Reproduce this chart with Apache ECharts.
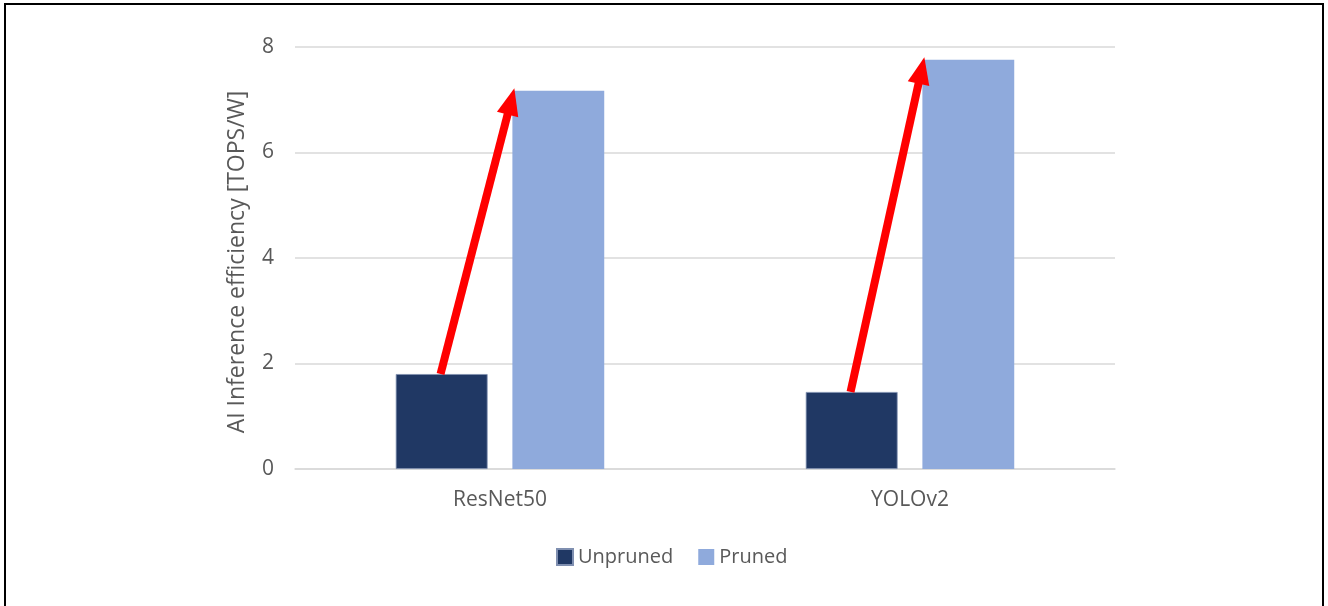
<!DOCTYPE html>
<html><head><meta charset="utf-8">
<script src="https://cdn.jsdelivr.net/npm/echarts@6/dist/echarts.min.js"></script>
<style>
html,body{margin:0;padding:0;background:#fff;}
#frame{position:absolute;left:4px;top:3px;width:1320px;height:610px;border:2px solid #000;border-bottom:none;box-sizing:border-box;}
#c{position:absolute;left:0;top:0;width:1328px;height:606px;}
</style></head><body>
<div id="c"></div><div id="frame"></div>
<script>
const categories = ['ResNet50', 'YOLOv2'];
const unpruned = [1.80, 1.46];
const pruned = [7.17, 7.76];
const yTicks = [0, 2, 4, 6, 8];
const seriesNames = ['Unpruned', 'Pruned'];

const chart = echarts.init(document.getElementById('c'));
const font = '"Open Sans", sans-serif';
const arrowData = categories.map((c, i) => [i, unpruned[i], pruned[i]]);

chart.setOption({
  animation: false,
  grid: {left: 295, right: 213, top: 47, bottom: 137, containLabel: false},
  legend: {
    data: seriesNames, left: 551, top: 542, itemWidth: 16, itemHeight: 16, itemGap: 25,
    icon: 'rect', textStyle: {color: '#595959', fontSize: 20, fontFamily: font}
  },
  xAxis: {
    type: 'category', data: categories,
    axisLine: {lineStyle: {color: '#d9d9d9', width: 1.5}},
    axisTick: {show: false},
    axisLabel: {color: '#595959', fontSize: 21, fontFamily: font, margin: 21}
  },
  yAxis: {
    type: 'value', min: yTicks[0], max: yTicks[yTicks.length - 1], interval: 2,
    name: 'AI Inference efficiency [TOPS/W]', nameLocation: 'middle', nameGap: 46,
    nameTextStyle: {color: '#595959', fontSize: 23, fontFamily: font, padding: [0, 8, 0, 0]},
    axisLine: {show: false}, axisTick: {show: false},
    splitLine: {lineStyle: {color: '#d9d9d9', width: 1.5}},
    axisLabel: {color: '#595959', fontSize: 21, fontFamily: font, margin: 21}
  },
  series: [
    {name: seriesNames[0], type: 'bar', data: unpruned, barWidth: '22.4%', barGap: '27%',
     itemStyle: {color: '#203864', borderColor: '#7f8fb0', borderWidth: 0.8}},
    {name: seriesNames[1], type: 'bar', data: pruned, barWidth: '22.4%',
     itemStyle: {color: '#8faadc'}},
    {
      type: 'custom', data: arrowData, z: 10, silent: true,
      renderItem: function (params, api) {
        const cat = api.value(0);
        const bw = api.size([1, 0])[0];
        const p0 = api.coord([cat, api.value(1)]);
        const p1 = api.coord([cat, api.value(2)]);
        const x0 = p0[0] - 0.145 * bw, y0 = p0[1];
        const x1 = p1[0] + 0.035 * bw, y1 = p1[1] - 2.5;
        const dx = x1 - x0, dy = y1 - y0, L = Math.sqrt(dx * dx + dy * dy);
        const ux = dx / L, uy = dy / L, nx = -uy, ny = ux;
        const hl = 27, hw = 11;
        const bx = x1 - ux * hl, by = y1 - uy * hl;
        return {
          type: 'group', children: [
            {type: 'line', shape: {x1: x0, y1: y0, x2: bx + ux * 2, y2: by + uy * 2},
             style: {stroke: '#ff0000', lineWidth: 8}},
            {type: 'polygon', shape: {points: [[x1, y1], [bx + nx * hw, by + ny * hw], [bx - nx * hw, by - ny * hw]]},
             style: {fill: '#ff0000'}}
          ]
        };
      }
    }
  ]
});
</script></body></html>
